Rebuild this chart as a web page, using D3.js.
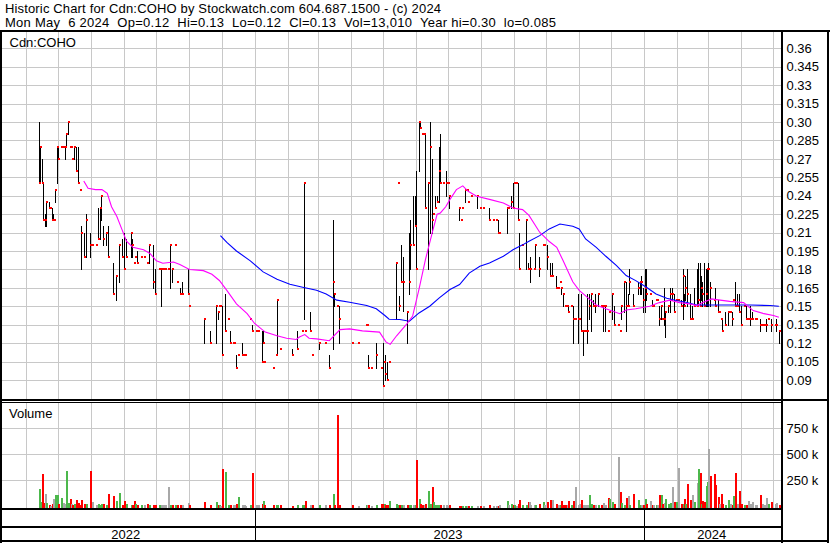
<!DOCTYPE html>
<html><head><meta charset="utf-8">
<script src="https://cdn.jsdelivr.net/npm/d3@7"></script>
<style>
body{margin:0;background:#fff}
svg{display:block}
text{font-family:"Liberation Sans",Arial,sans-serif;fill:#000}
</style>
</head><body>
<svg id="c" width="830" height="543"></svg>
<script>
// ---------------- data ----------------
const title1 = "Historic Chart for Cdn:COHO by Stockwatch.com 604.687.1500 - (c) 2024";
const title2 = "Mon May  6 2024  Op=0.12  Hi=0.13  Lo=0.12  Cl=0.13  Vol=13,010  Year hi=0.30  lo=0.085";
const symbolLabel = "Cdn:COHO";
const volumeLabel = "Volume";

const priceTicks = [0.09,0.105,0.12,0.135,0.15,0.165,0.18,0.195,0.21,0.225,0.24,0.255,0.27,0.285,0.30,0.315,0.33,0.345,0.36];
const priceTickLabels = ["0.09","0.105","0.12","0.135","0.15","0.165","0.18","0.195","0.21","0.225","0.24","0.255","0.27","0.285","0.30","0.315","0.33","0.345","0.36"];
const volumeTicksK = [250,500,750];
const volumeTickLabels = ["250 k","500 k","750 k"];
const yearStarts = ["2022-01-01","2023-01-01","2024-01-01"];
const yearLabels = ["2022","2023","2024"];

const dates = [
"2022-06-13","2022-06-14","2022-06-16","2022-06-17","2022-06-19","2022-06-20","2022-06-22","2022-06-23","2022-06-25","2022-06-26","2022-06-27","2022-06-28","2022-06-30",
"2022-07-01","2022-07-04","2022-07-06","2022-07-07","2022-07-08","2022-07-10","2022-07-12","2022-07-13","2022-07-14","2022-07-16","2022-07-18","2022-07-20","2022-07-21","2022-07-22","2022-07-25","2022-07-27","2022-07-31",
"2022-08-02","2022-08-05","2022-08-07","2022-08-09","2022-08-10","2022-08-12","2022-08-15","2022-08-17","2022-08-21","2022-08-24","2022-08-27","2022-08-30",
"2022-09-01","2022-09-03","2022-09-07","2022-09-08","2022-09-10","2022-09-11","2022-09-13","2022-09-17","2022-09-19","2022-09-22","2022-09-24","2022-09-28","2022-09-30",
"2022-10-03","2022-10-05","2022-10-07","2022-10-09","2022-10-12","2022-10-14","2022-10-16","2022-10-18","2022-10-20","2022-10-23","2022-10-25","2022-10-31",
"2022-11-01","2022-11-15","2022-11-20","2022-11-26","2022-11-28","2022-11-29","2022-11-30",
"2022-12-01","2022-12-04","2022-12-07","2022-12-09","2022-12-12","2022-12-13","2022-12-15","2022-12-16","2022-12-20","2022-12-22","2022-12-23","2022-12-28","2022-12-30",
"2023-01-02","2023-01-04","2023-01-08","2023-01-09","2023-01-10","2023-01-18","2023-01-21","2023-01-22","2023-01-25",
"2023-02-05","2023-02-10","2023-02-14","2023-02-16","2023-02-17","2023-02-22","2023-02-24",
"2023-03-02","2023-03-08","2023-03-12","2023-03-15","2023-03-16","2023-03-19","2023-03-21",
"2023-04-02","2023-04-08","2023-04-15","2023-04-16","2023-04-17","2023-04-20","2023-04-25","2023-04-29",
"2023-05-01","2023-05-02","2023-05-03","2023-05-05","2023-05-07","2023-05-13","2023-05-15","2023-05-16","2023-05-18","2023-05-20","2023-05-24","2023-05-26","2023-05-27","2023-05-29","2023-05-31",
"2023-06-01","2023-06-04","2023-06-05","2023-06-07","2023-06-09","2023-06-10","2023-06-12","2023-06-14","2023-06-16","2023-06-17","2023-06-19","2023-06-21","2023-06-23","2023-06-24","2023-06-26","2023-06-29",
"2023-07-01","2023-07-02","2023-07-11","2023-07-13","2023-07-14","2023-07-17","2023-07-19","2023-07-20","2023-07-23","2023-07-28","2023-07-31",
"2023-08-03","2023-08-09","2023-08-12","2023-08-15","2023-08-17","2023-08-18","2023-08-25","2023-08-26","2023-08-29","2023-08-31",
"2023-09-01","2023-09-03","2023-09-05","2023-09-06","2023-09-08","2023-09-12","2023-09-14","2023-09-15","2023-09-16","2023-09-20","2023-09-21","2023-09-24","2023-09-28","2023-09-29",
"2023-10-02","2023-10-05","2023-10-07","2023-10-10","2023-10-12","2023-10-14","2023-10-15","2023-10-17","2023-10-19","2023-10-21","2023-10-22","2023-10-24","2023-10-26","2023-10-28","2023-10-31",
"2023-11-01","2023-11-03","2023-11-05","2023-11-06","2023-11-08","2023-11-10","2023-11-12","2023-11-14","2023-11-16","2023-11-19","2023-11-21","2023-11-23","2023-11-25","2023-11-28","2023-11-29",
"2023-12-02","2023-12-04","2023-12-07","2023-12-09","2023-12-10","2023-12-13","2023-12-15","2023-12-17","2023-12-18","2023-12-21","2023-12-26","2023-12-28","2023-12-29","2023-12-31",
"2024-01-02","2024-01-03","2024-01-06","2024-01-08","2024-01-09","2024-01-12","2024-01-13","2024-01-15","2024-01-17","2024-01-18","2024-01-19","2024-01-20","2024-01-23","2024-01-25","2024-01-27","2024-01-29","2024-01-31",
"2024-02-02","2024-02-04","2024-02-06","2024-02-07","2024-02-08","2024-02-10","2024-02-13","2024-02-15","2024-02-17","2024-02-19","2024-02-20","2024-02-22","2024-02-23","2024-02-24","2024-02-26","2024-02-28","2024-02-29",
"2024-03-01","2024-03-03","2024-03-06","2024-03-07","2024-03-10","2024-03-11","2024-03-13","2024-03-14","2024-03-17","2024-03-19","2024-03-21","2024-03-23","2024-03-24","2024-03-26","2024-03-28","2024-03-30",
"2024-04-01","2024-04-03","2024-04-05","2024-04-07","2024-04-09","2024-04-11","2024-04-14","2024-04-15","2024-04-18","2024-04-20","2024-04-22","2024-04-24","2024-04-26","2024-04-29",
"2024-05-02","2024-05-03","2024-05-06"
];
const highs = [
.30,.28,.27,.25,.225,.235,.235,.23,.23,.225,.22,.245,.28,
.28,.28,.28,.28,.29,.30,.28,.28,.27,.28,.28,.28,.245,.215,.21,.225,.21,
.20,.20,.23,.23,.24,.215,.21,.215,.185,.175,.20,.205,
.21,.205,.21,.205,.185,.19,.195,.19,.19,.185,.20,.20,.18,
.18,.18,.18,.18,.18,.20,.18,.20,.17,.165,.17,.18,
.15,.14,.13,.15,.145,.15,.15,
.15,.16,.14,.13,.12,.12,.11,.11,.12,.11,.11,.14,.135,
.13,.13,.13,.13,.105,.10,.11,.155,.115,
.115,.13,.13,.25,.13,.145,.11,
.12,.12,.11,.22,.16,.15,.15,
.12,.12,.135,.135,.11,.10,.12,.10,
.12,.105,.11,.105,.105,.185,.25,.158,.20,.19,.145,.21,.22,.24,.24,
.26,.30,.30,.29,.29,.29,.25,.30,.27,.225,.24,.24,.28,.29,.25,.26,
.25,.24,.23,.22,.23,.245,.245,.235,.24,.24,.23,
.23,.23,.22,.22,.22,.21,.23,.23,.24,.25,
.25,.25,.25,.21,.20,.22,.185,.18,.19,.18,.20,.19,.20,.20,
.20,.185,.185,.175,.165,.17,.165,.16,.15,.15,.15,.15,.15,.14,.16,
.14,.16,.13,.13,.16,.16,.16,.155,.16,.16,.15,.15,.15,.13,.145,
.16,.15,.135,.13,.15,.17,.17,.16,.18,.16,.17,.17,.175,.165,
.18,.18,.16,.155,.15,.155,.155,.15,.15,.14,.165,.145,.15,.165,.165,.16,.155,
.155,.155,.18,.16,.175,.18,.16,.15,.165,.18,.185,.185,.175,.17,.185,.18,.18,
.185,.17,.155,.165,.155,.145,.14,.14,.145,.145,.145,.145,.155,.17,.16,.16,
.15,.15,.15,.14,.15,.145,.14,.14,.14,.135,.135,.14,.14,.14,
.135,.14,.13
];
const lows = [
.25,.25,.25,.22,.215,.215,.23,.23,.22,.22,.22,.235,.25,
.27,.28,.28,.27,.28,.29,.28,.28,.27,.27,.26,.25,.245,.18,.19,.19,.19,
.20,.20,.205,.205,.22,.20,.20,.19,.16,.155,.17,.19,
.18,.19,.19,.19,.185,.19,.185,.19,.19,.185,.185,.165,.16,
.18,.15,.18,.18,.18,.165,.17,.20,.17,.16,.16,.16,
.15,.12,.12,.12,.14,.15,.15,
.11,.13,.14,.12,.12,.12,.10,.11,.11,.11,.11,.14,.13,
.13,.13,.105,.12,.105,.10,.11,.11,.115,
.11,.115,.13,.14,.13,.13,.11,
.115,.12,.10,.115,.15,.15,.12,
.12,.12,.135,.135,.10,.10,.10,.10,
.085,.105,.09,.09,.105,.14,.25,.147,.17,.146,.12,.16,.18,.20,.215,
.18,.26,.295,.29,.29,.23,.18,.21,.21,.225,.23,.235,.235,.25,.25,.24,
.25,.23,.22,.22,.23,.235,.245,.235,.24,.23,.23,
.23,.22,.22,.22,.21,.21,.21,.23,.23,.23,
.25,.25,.22,.18,.20,.18,.18,.18,.17,.18,.18,.175,.20,.20,
.18,.175,.175,.165,.165,.17,.16,.15,.15,.15,.145,.15,.12,.14,.12,
.14,.13,.11,.13,.12,.14,.13,.15,.145,.15,.15,.13,.13,.13,.145,
.14,.135,.135,.13,.14,.145,.13,.15,.16,.15,.16,.16,.16,.145,
.145,.155,.16,.15,.15,.155,.155,.135,.14,.14,.135,.125,.145,.145,.155,.145,.155,
.155,.15,.14,.15,.155,.15,.14,.14,.15,.15,.15,.15,.155,.15,.15,.15,.15,
.15,.15,.155,.15,.145,.145,.14,.13,.135,.135,.145,.135,.155,.15,.15,.145,
.135,.15,.14,.14,.135,.14,.14,.14,.13,.135,.135,.13,.14,.13,
.135,.13,.12
];
const closes = [
.25,.28,.25,.22,.22,.235,.23,.23,.22,.22,.22,.245,.28,
.27,.28,.28,.28,.29,.30,.28,.28,.27,.28,.26,.25,.245,.21,.19,.22,.20,
.20,.20,.205,.23,.24,.205,.21,.19,.16,.175,.20,.19,
.18,.19,.21,.20,.185,.19,.185,.19,.19,.185,.20,.17,.16,
.18,.18,.18,.18,.18,.20,.18,.20,.17,.16,.16,.16,
.15,.14,.12,.15,.145,.15,.15,
.11,.13,.14,.12,.12,.12,.10,.11,.11,.11,.11,.14,.13,
.13,.13,.105,.12,.105,.10,.11,.155,.115,
.11,.115,.13,.25,.13,.13,.11,
.12,.12,.10,.17,.16,.15,.14,
.12,.12,.135,.135,.10,.10,.11,.10,
.085,.105,.095,.09,.105,.185,.25,.15,.17,.17,.145,.17,.20,.20,.215,
.18,.30,.295,.29,.29,.23,.25,.28,.22,.225,.23,.235,.26,.25,.25,.25,
.25,.24,.23,.22,.23,.245,.245,.235,.24,.24,.23,
.23,.22,.22,.22,.21,.21,.23,.23,.235,.23,
.25,.25,.22,.18,.20,.22,.18,.18,.18,.18,.20,.18,.20,.20,
.19,.175,.175,.165,.165,.17,.165,.16,.15,.15,.145,.15,.14,.14,.14,
.14,.13,.13,.13,.13,.15,.16,.15,.15,.16,.15,.15,.15,.13,.145,
.16,.135,.135,.13,.15,.17,.15,.15,.17,.15,.165,.17,.17,.155,
.165,.16,.16,.15,.15,.155,.155,.14,.15,.14,.14,.145,.15,.16,.16,.145,.155,
.155,.15,.175,.15,.165,.16,.14,.14,.15,.15,.155,.15,.165,.16,.15,.16,.18,
.18,.165,.155,.15,.145,.145,.14,.13,.135,.145,.145,.14,.155,.15,.15,.145,
.135,.15,.14,.14,.14,.14,.14,.14,.135,.135,.135,.135,.14,.135,
.135,.135,.13
];
// volume in thousands of shares
const volumesK = [
163,40,311,30,119,30,10,5,20,67,20,109,109,
25,83,30,20,340,30,70,20,15,25,61,30,15,61,20,25,340,
42,10,22,15,20,22,15,119,99,48,128,15,
51,20,15,10,51,22,10,10,10,22,15,15,10,
10,10,10,10,186,10,10,10,10,10,16,32,
10,42,10,42,10,10,5,
362,330,16,16,10,10,20,90,10,10,5,10,320,
10,10,20,51,10,10,10,15,10,
5,10,10,15,51,10,10,
10,10,10,119,10,878,10,
10,5,10,16,16,5,10,22,
20,20,10,10,51,20,10,10,10,10,10,10,10,10,10,
446,67,20,10,10,20,147,20,183,38,10,10,10,10,10,10,
5,10,5,5,5,5,5,5,5,5,5,
5,10,5,5,5,10,51,10,22,10,
10,5,22,61,10,10,42,42,10,10,10,20,42,10,
42,61,61,20,10,10,51,10,10,10,51,10,51,186,10,
22,61,10,10,10,109,22,10,10,10,10,32,10,77,70,
45,20,474,135,29,10,77,99,10,115,61,10,10,10,
67,20,51,10,10,10,10,109,109,20,30,67,20,30,186,40,45,
372,20,22,67,22,215,61,109,40,224,359,320,20,51,40,199,231,
551,292,311,205,93,20,119,20,10,61,20,10,99,320,20,147,
20,10,10,51,20,45,10,10,109,20,10,77,20,38,
20,30,13
];

// short moving average (magenta)
const maShortDates = ["2022-07-25","2022-07-29","2022-08-05","2022-08-11","2022-08-16","2022-08-20","2022-08-25","2022-08-30","2022-09-03","2022-09-09","2022-09-19","2022-09-25","2022-10-01","2022-10-07","2022-10-17","2022-10-23","2022-11-01","2022-11-14","2022-11-22","2022-11-29","2022-12-06","2022-12-15","2022-12-25","2023-01-01","2023-01-11","2023-01-22","2023-01-31","2023-02-09","2023-02-12","2023-02-17","2023-02-21","2023-02-28","2023-03-12","2023-03-22","2023-03-31","2023-04-12","2023-04-28","2023-05-04","2023-05-08","2023-05-14","2023-05-23","2023-05-29","2023-06-04","2023-06-10","2023-06-17","2023-06-21","2023-06-24","2023-06-29","2023-07-03","2023-07-09","2023-07-15","2023-07-20","2023-07-28","2023-08-09","2023-08-22","2023-08-31","2023-09-09","2023-09-15","2023-09-25","2023-10-04","2023-10-11","2023-10-17","2023-10-26","2023-11-01","2023-11-09","2023-11-17","2023-11-26","2023-12-09","2023-12-15","2023-12-24","2024-01-06","2024-01-15","2024-01-25","2024-02-03","2024-02-12","2024-02-19","2024-02-25","2024-03-04","2024-03-12","2024-03-21","2024-04-03","2024-04-12","2024-04-22","2024-05-01","2024-05-06"];
const maShortValues = [.252,.246,.245,.245,.242,.231,.223,.212,.203,.198,.196,.193,.187,.185,.186,.184,.180,.179,.176,.171,.163,.152,.144,.136,.129,.126,.124,.123,.125,.127,.124,.1235,.122,.131,.1316,.130,.129,.121,.119,.126,.135,.142,.164,.188,.212,.225,.226,.231,.237,.245,.248,.2436,.2395,.237,.234,.230,.2287,.224,.2103,.2027,.198,.187,.170,.163,.157,.151,.148,.144,.147,.148,.150,.153,.155,.153,.152,.1506,.153,.156,.155,.154,.153,.1465,.144,.1425,.141];

// long moving average (blue)
const maLongDates = ["2022-11-30","2022-12-06","2022-12-15","2022-12-28","2023-01-09","2023-01-22","2023-02-03","2023-02-15","2023-02-28","2023-03-09","2023-03-19","2023-03-31","2023-04-16","2023-04-25","2023-05-03","2023-05-07","2023-05-17","2023-05-26","2023-06-04","2023-06-14","2023-06-23","2023-07-03","2023-07-12","2023-07-21","2023-07-31","2023-08-09","2023-08-22","2023-08-31","2023-09-09","2023-09-15","2023-09-25","2023-10-04","2023-10-14","2023-10-26","2023-11-01","2023-11-07","2023-11-17","2023-11-26","2023-12-06","2023-12-15","2023-12-24","2024-01-03","2024-01-12","2024-01-22","2024-01-31","2024-02-09","2024-02-19","2024-03-21","2024-04-09","2024-04-28","2024-05-06"];
const maLongValues = [.2075,.202,.195,.187,.178,.172,.168,.1655,.163,.160,.155,.1533,.1506,.148,.1425,.1395,.1392,.1378,.1446,.150,.1568,.1636,.1677,.177,.1826,.1853,.1907,.196,.200,.203,.2075,.213,.217,.2151,.213,.2048,.198,.1907,.1831,.175,.1709,.1655,.160,.1566,.1547,.1533,.151,.151,.151,.1506,.150];

// ---------------- drawing ----------------
const parse = d3.timeParse("%Y-%m-%d");
const svg = d3.select("#c");
const plotL = 2, plotR = 781;
const priceTop = 32, priceBot = 399;
const volTop = 402, volBot = 509;

const x = d3.scaleTime().domain([parse("2023-01-01"), parse("2024-01-01")]).range([254.6, 644.3]);
const y = d3.scaleLinear().domain([0.09, 0.36]).range([380.0, 48.3]);
const yv = d3.scaleLinear().domain([0, 750]).range([506.3, 428.3]);

svg.append("rect").attr("width",830).attr("height",543).attr("fill","#fff");

// header (non-breaking spaces keep the double spacing visible)
const nb = s => s.replace(/ /g, "\u00A0");
svg.append("text").attr("x",5).attr("y",13.3).style("font-size","13px")
  .attr("textLength",436).attr("lengthAdjust","spacing").text(nb(title1));
svg.append("text").attr("x",5).attr("y",26.7).style("font-size","13px")
  .attr("textLength",551).attr("lengthAdjust","spacing").text(nb(title2));

const grid = svg.append("g").attr("stroke","#c8c8c8").attr("stroke-width",1).attr("shape-rendering","crispEdges");
const months = d3.timeMonth.range(x.invert(plotL), x.invert(plotR));
months.forEach(m => {
  const xx = Math.round(x(m)) + 0.5;
  grid.append("line").attr("x1",xx).attr("x2",xx).attr("y1",priceTop).attr("y2",priceBot);
  grid.append("line").attr("x1",xx).attr("x2",xx).attr("y1",volTop).attr("y2",volBot);
});
priceTicks.forEach(t => {
  const yy = Math.round(y(t)) + 0.5;
  grid.append("line").attr("x1",plotL).attr("x2",plotR).attr("y1",yy).attr("y2",yy);
});
volumeTicksK.forEach(t => {
  const yy = Math.round(yv(t)) + 0.5;
  grid.append("line").attr("x1",plotL).attr("x2",plotR).attr("y1",yy).attr("y2",yy);
});

// price bars
const bars = svg.append("g").attr("shape-rendering","crispEdges");
dates.forEach((ds, i) => {
  const xx = Math.round(x(parse(ds)));
  if (highs[i] > lows[i]) {
    bars.append("rect").attr("x",xx).attr("width",1)
      .attr("y",Math.round(y(highs[i]))).attr("height",Math.max(1,Math.round(y(lows[i]))-Math.round(y(highs[i]))+1))
      .attr("fill","#000");
  }
});
dates.forEach((ds, i) => {
  const xx = Math.round(x(parse(ds)));
  bars.append("rect").attr("x",xx).attr("width",2)
    .attr("y",Math.round(y(closes[i]))-1).attr("height",2).attr("fill","#ff0000");
});

// moving averages
const line = d3.line().x(d => x(d[0])).y(d => y(d[1]));
svg.append("path").datum(maLongDates.map((d,i)=>[parse(d), maLongValues[i]]))
  .attr("d", line).attr("fill","none").attr("stroke","#0000ff").attr("stroke-width",1.1);
svg.append("path").datum(maShortDates.map((d,i)=>[parse(d), maShortValues[i]]))
  .attr("d", line).attr("fill","none").attr("stroke","#ff00ff").attr("stroke-width",1.1);

// volume bars
const vb = svg.append("g").attr("shape-rendering","crispEdges");
dates.forEach((ds, i) => {
  const xx = Math.round(x(parse(ds)));
  let col = "#4cb84c";
  if (i > 0) {
    if (closes[i] < closes[i-1]) col = "#ff0000";
    else if (closes[i] === closes[i-1]) col = "#a8a8a8";
  }
  const top = Math.round(yv(volumesK[i]));
  vb.append("rect").attr("x",xx).attr("width",2).attr("y",top).attr("height",volBot-top).attr("fill",col);
});

// labels
svg.append("text").attr("x",9.5).attr("y",46.5).style("font-size","13px").text(symbolLabel);
svg.append("text").attr("x",9).attr("y",417.5).style("font-size","13px").text(volumeLabel);
priceTicks.forEach((t,i) => {
  svg.append("text").attr("x",786.5).attr("y",y(t)+4.7).style("font-size","13px").text(priceTickLabels[i]);
});
volumeTicksK.forEach((t,i) => {
  svg.append("text").attr("x",786.5).attr("y",yv(t)+4.7).style("font-size","13px").text(volumeTickLabels[i]);
});

// frame
const fr = svg.append("g").attr("fill","#000").attr("shape-rendering","crispEdges");
fr.append("rect").attr("x",0).attr("y",30).attr("width",830).attr("height",2);
fr.append("rect").attr("x",0).attr("y",30).attr("width",2).attr("height",513);
fr.append("rect").attr("x",827).attr("y",30).attr("width",2).attr("height",513);
fr.append("rect").attr("x",781).attr("y",30).attr("width",2).attr("height",513);
fr.append("rect").attr("x",0).attr("y",399).attr("width",829).attr("height",2);
fr.append("rect").attr("x",0).attr("y",402).attr("width",782).attr("height",1);
fr.append("rect").attr("x",0).attr("y",508).attr("width",782).attr("height",2);
fr.append("rect").attr("x",0).attr("y",526).attr("width",782).attr("height",2);
fr.append("rect").attr("x",0).attr("y",540).attr("width",829).attr("height",2);

// year separators and labels
const yb = yearStarts.map(s => x(parse(s)));
const segs = [];
for (let i = 0; i < yearLabels.length; i++) {
  const a = Math.max(0, yb[i]);
  const b = i+1 < yb.length ? yb[i+1] : 782;
  segs.push([a,b]);
  if (i > 0) fr.append("rect").attr("x",Math.round(yb[i])).attr("y",509).attr("width",1).attr("height",32);
}
segs.forEach((s,i) => {
  svg.append("text").attr("x",(s[0]+s[1])/2 - 1.5).attr("y",539).attr("text-anchor","middle").style("font-size","13px").text(yearLabels[i]);
});
</script>
</body></html>
